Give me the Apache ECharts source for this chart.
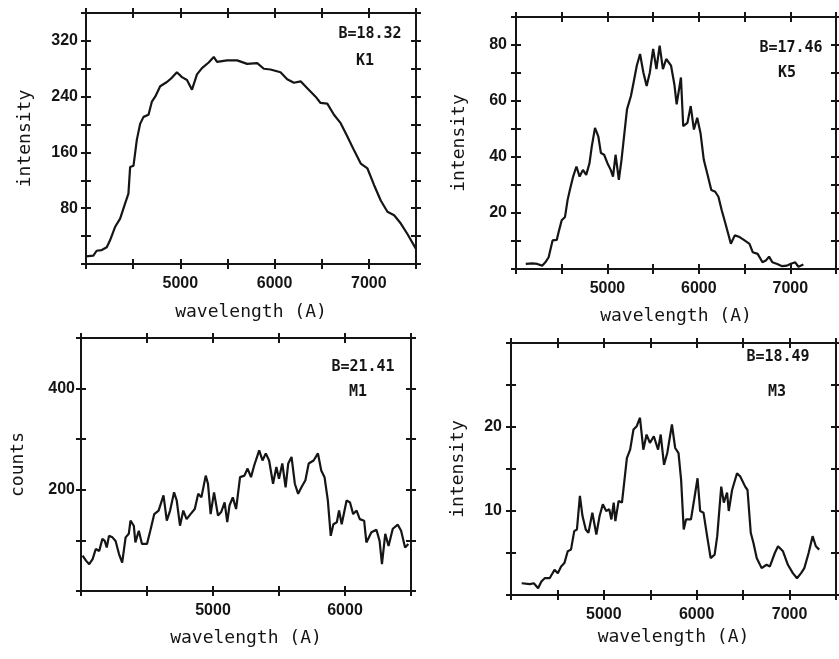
<!DOCTYPE html>
<html>
<head>
<meta charset="utf-8">
<script src="https://cdn.jsdelivr.net/npm/echarts@6/dist/echarts.min.js"></script>
<style>
html,body{margin:0;padding:0;background:#fff;}
#chart{width:839px;height:659px;}
</style>
</head>
<body>
<div id="chart"></div>
<script>
// ---- Data ----
var k1Wave = [4000,4078,4113,4167,4220,4255,4308,4362,4415,4450,4468,4504,4539,4574,4610,4663,4699,4734,4787,4858,4910,4964,5018,5071,5124,5177,5230,5301,5355,5390,5496,5603,5709,5816,5886,5957,6063,6134,6205,6276,6347,6435,6488,6559,6630,6701,6772,6843,6914,6985,7056,7126,7197,7268,7339,7409,7498];
var k1Int = [11,12,19,20,24,34,53,65,87,101,139,141,178,201,211,214,233,240,255,261,267,275,268,264,250,272,281,289,297,290,292,292,287,288,280,279,275,265,260,262,252,240,231,230,214,202,183,163,144,137,113,91,75,70,58,43,22];

var k5Wave = [4107,4179,4232,4286,4321,4357,4400,4446,4471,4500,4536,4564,4589,4625,4661,4696,4732,4768,4804,4829,4864,4900,4929,4964,5000,5036,5061,5089,5125,5154,5186,5214,5257,5286,5321,5357,5393,5429,5464,5500,5536,5571,5607,5643,5696,5732,5757,5804,5829,5875,5911,5946,5982,6018,6054,6100,6136,6179,6214,6250,6286,6321,6350,6393,6446,6500,6554,6589,6643,6696,6732,6768,6804,6857,6911,6964,7000,7054,7089,7143];
var k5Int = [1.8,2,1.8,1.2,2.4,4.2,10.2,10.4,13.8,17.4,18.6,24.6,28.2,33,36.6,33,35.4,33.6,37.8,43.8,50.4,47.4,41.4,40.8,37.8,35.4,33,40.8,31.8,39,48.6,57,61.8,66.6,72.6,76.8,70.2,65.4,70.2,78.6,71.4,79.8,71.4,75,72.6,66,58.8,68.4,51,52.2,58.2,49.8,54,48.6,39,33,28.2,27.6,25.8,21,16.8,12.6,9,12,11.4,10.2,9,6,5.4,2.4,3,4.4,2.4,1.8,1,1.2,1.8,2.4,0.8,1.6];

var m1Wave = [4012,4038,4062,4088,4112,4138,4162,4180,4195,4212,4238,4262,4288,4312,4338,4362,4375,4400,4412,4438,4462,4500,4525,4555,4588,4625,4650,4675,4705,4725,4750,4775,4800,4830,4862,4888,4912,4945,4962,4982,5008,5038,5062,5088,5108,5125,5150,5175,5205,5238,5262,5288,5312,5350,5375,5400,5425,5455,5480,5500,5525,5550,5570,5595,5620,5645,5670,5700,5725,5762,5795,5820,5845,5870,5892,5912,5938,5955,5975,6012,6038,6062,6088,6112,6145,6162,6200,6238,6262,6280,6305,6330,6362,6400,6425,6455,6480];
var m1Counts = [70,60,53,63,83,79,103,99,86,109,106,99,73,56,106,113,139,129,96,119,93,93,119,152,159,189,139,159,195,179,129,159,142,152,162,192,185,228,212,152,195,149,156,175,136,169,185,162,225,228,242,225,248,278,258,272,258,212,245,222,252,205,252,265,212,192,205,219,252,258,272,238,225,179,109,132,136,159,132,179,175,152,159,142,139,96,116,121,99,53,113,89,123,131,119,86,93];

var m3Wave = [4115,4204,4246,4292,4327,4363,4416,4469,4504,4540,4575,4611,4646,4681,4710,4742,4770,4805,4834,4876,4919,4954,4989,5025,5058,5081,5106,5124,5159,5195,5248,5283,5319,5354,5389,5425,5460,5496,5538,5584,5612,5648,5683,5733,5768,5804,5832,5860,5885,5938,5973,6009,6037,6073,6115,6150,6193,6221,6264,6292,6327,6345,6381,6434,6469,6522,6547,6582,6611,6646,6699,6752,6788,6841,6876,6929,6982,7035,7080,7124,7159,7205,7248,7283,7319];
var m3Int = [1.4,1.3,1.4,0.8,1.6,2,2,3,2.6,3.4,3.8,5.2,5.4,7.6,7.8,11.8,9.4,7.8,7.4,9.8,7.2,9.4,10.8,10,10.2,9,11,8.8,11.2,11,16.3,17.3,19.7,20.1,21.1,17.3,19.1,18.1,18.9,17.3,19.1,15.5,16.9,20.3,17.5,16.9,13.7,7.8,9,9,11.4,13.9,10,9.8,6.8,4.4,4.8,7,12.9,11,12.2,10,12.5,14.5,14.1,12.9,12.5,7.4,6.2,4.4,3.2,3.6,3.4,5,5.8,5.2,3.6,2.6,2,2.6,3.2,5,7,5.8,5.4];

var k1XLabels = [5000,6000,7000], k1YLabels = [80,160,240,320];
var k5XLabels = [5000,6000,7000], k5YLabels = [20,40,60,80];
var m1XLabels = [5000,6000], m1YLabels = [200,400];
var m3XLabels = [5000,6000,7000], m3YLabels = [10,20];

var panelTexts = [["B=18.32","K1"],["B=17.46","K5"],["B=21.41","M1"],["B=18.49","M3"]];
var xName = "wavelength (A)";
var yNames = ["intensity","intensity","counts","intensity"];

// ---- Build ----
var INK = '#151515';
var MONO = "'DejaVu Sans Mono', monospace";
var SANS = "'Liberation Sans', Arial, sans-serif";
function zip(a,b){ var r=[]; for (var i=0;i<a.length;i++) r.push([a[i],b[i]]); return r; }

var panels = [
  {grid:{left:86,top:13,right:423,bottom:395}, x:[4000,7500,500], y:[0,360,40], xl:k1XLabels, yl:k1YLabels, data:zip(k1Wave,k1Int), xGap:39, yGap:52, yMargin:8},
  {grid:{left:516,top:17,right:3,bottom:390}, x:[4000,7500,500], y:[0,90,10], xl:k5XLabels, yl:k5YLabels, data:zip(k5Wave,k5Int), xGap:38, yGap:48, yMargin:9},
  {grid:{left:81,top:338,right:428,bottom:68}, x:[4000,6500,500], y:[0,500,100], xl:m1XLabels, yl:m1YLabels, data:zip(m1Wave,m1Counts), xGap:38, yGap:54, yMargin:6},
  {grid:{left:511,top:343,right:3,bottom:64}, x:[4000,7500,500], y:[0,30,5], xl:m3XLabels, yl:m3YLabels, data:zip(m3Wave,m3Int), xGap:33, yGap:44, yMargin:9}
];

var grids=[], xAxes=[], yAxes=[], series=[];
panels.forEach(function(p, i){
  grids.push(p.grid);
  var lineStyle = {color:INK, width:2};
  function ax(kind, pos, inside, main){
    var r = p[kind];
    return {
      type:'value', gridIndex:i, position:pos, min:r[0], max:r[1], interval:r[2],
      splitLine:{show:false},
      axisLine:{show:main, onZero:false, lineStyle:lineStyle},
      axisTick:{show:true, inside:inside, length:5, lineStyle:{color:INK,width:2}},
      axisLabel:{show:false}
    };
  }
  var xb = ax('x','bottom',false,true);
  xb.axisLabel = {show:true, margin:12, color:INK, fontFamily:SANS, fontSize:16, fontWeight:'bold',
    formatter:function(v){ return p.xl.indexOf(v)>=0 ? String(v) : ''; }};
  xb.name = xName; xb.nameLocation='middle'; xb.nameGap=p.xGap;
  xb.nameTextStyle = {color:INK, fontFamily:MONO, fontSize:18};
  xAxes.push(xb, ax('x','bottom',true,false), ax('x','top',false,true), ax('x','top',true,false));
  var yl = ax('y','left',false,true);
  yl.axisLabel = {show:true, margin:p.yMargin, color:INK, fontFamily:SANS, fontSize:16, fontWeight:'bold',
    formatter:function(v){ return p.yl.indexOf(v)>=0 ? String(v) : ''; }};
  yl.name = yNames[i]; yl.nameLocation='middle'; yl.nameGap=p.yGap;
  yl.nameTextStyle = {color:INK, fontFamily:MONO, fontSize:18};
  yAxes.push(yl, ax('y','left',true,false), ax('y','right',false,true), ax('y','right',true,false));
  series.push({type:'line', xAxisIndex:4*i, yAxisIndex:4*i, data:p.data, showSymbol:false, symbol:'none',
    lineStyle:{color:INK, width:2.2}, animation:false, silent:true});
});

var textPos = [[370,34,365,61],[791,48,787,73],[363,367,358,392],[778,357,777,392]];
var graphics = [];
panelTexts.forEach(function(t,i){
  var q = textPos[i];
  graphics.push({type:'text', x:q[0], y:q[1], style:{text:t[0], fill:INK, font:'bold 15px '+MONO, textAlign:'center', textVerticalAlign:'middle'}});
  graphics.push({type:'text', x:q[2], y:q[3], style:{text:t[1], fill:INK, font:'bold 15px '+MONO, textAlign:'center', textVerticalAlign:'middle'}});
});

var chart = echarts.init(document.getElementById('chart'), null, {renderer:'canvas'});
chart.setOption({
  backgroundColor:'#ffffff',
  animation:false,
  grid:grids, xAxis:xAxes, yAxis:yAxes, series:series, graphic:graphics
});
</script>
</body>
</html>
